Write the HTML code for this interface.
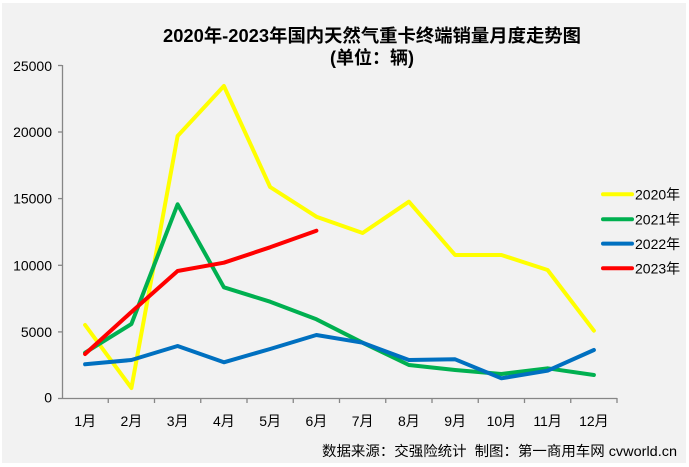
<!DOCTYPE html>
<html><head><meta charset="utf-8"><style>
html,body{margin:0;padding:0;background:#fff;}
svg{display:block;}
text{font-family:"Liberation Sans","Noto Sans CJK SC",sans-serif;fill:#000;}
</style></head><body>
<svg width="689" height="467" viewBox="0 0 689 467" xmlns="http://www.w3.org/2000/svg">
<rect x="0" y="0" width="689" height="467" fill="#ffffff"/>
<rect x="2" y="3" width="684" height="460" fill="#f2f2f2"/>
<text x="372" y="36" text-anchor="middle" dominant-baseline="central" font-size="18" font-weight="bold" textLength="418" lengthAdjust="spacingAndGlyphs">2020年-2023年国内天然气重卡终端销量月度走势图</text>
<text x="372" y="58" text-anchor="middle" dominant-baseline="central" font-size="18" font-weight="bold">(单位：辆)</text>
<g stroke="#868686" stroke-width="1.3" fill="none">
<line x1="62.5" y1="65" x2="62.5" y2="398.5"/>
<line x1="62" y1="398.5" x2="617" y2="398.5"/>
<line x1="58" y1="65.5" x2="62" y2="65.5"/>
<line x1="58" y1="132" x2="62" y2="132"/>
<line x1="58" y1="198.6" x2="62" y2="198.6"/>
<line x1="58" y1="265.3" x2="62" y2="265.3"/>
<line x1="58" y1="331.9" x2="62" y2="331.9"/>
<line x1="58" y1="398.5" x2="62" y2="398.5"/>
<line x1="108.25" y1="398" x2="108.25" y2="403"/>
<line x1="154.5" y1="398" x2="154.5" y2="403"/>
<line x1="200.75" y1="398" x2="200.75" y2="403"/>
<line x1="247" y1="398" x2="247" y2="403"/>
<line x1="293.25" y1="398" x2="293.25" y2="403"/>
<line x1="339.5" y1="398" x2="339.5" y2="403"/>
<line x1="385.75" y1="398" x2="385.75" y2="403"/>
<line x1="432" y1="398" x2="432" y2="403"/>
<line x1="478.25" y1="398" x2="478.25" y2="403"/>
<line x1="524.5" y1="398" x2="524.5" y2="403"/>
<line x1="570.75" y1="398" x2="570.75" y2="403"/>
<line x1="617" y1="398" x2="617" y2="403"/>
</g>
<g font-size="14" text-anchor="end" dominant-baseline="central">
<text x="52" y="66">25000</text>
<text x="52" y="132">20000</text>
<text x="52" y="198.6">15000</text>
<text x="52" y="265.3">10000</text>
<text x="52" y="331.9">5000</text>
<text x="52" y="397.5">0</text>
</g>
<g font-size="14" text-anchor="middle" dominant-baseline="central">
<text x="85.1" y="421">1月</text>
<text x="131.4" y="421">2月</text>
<text x="177.6" y="421">3月</text>
<text x="223.9" y="421">4月</text>
<text x="270.1" y="421">5月</text>
<text x="316.4" y="421">6月</text>
<text x="362.6" y="421">7月</text>
<text x="408.9" y="421">8月</text>
<text x="455.1" y="421">9月</text>
<text x="501.4" y="421">10月</text>
<text x="547.6" y="421">11月</text>
<text x="593.9" y="421">12月</text>
</g>
<g fill="none" stroke-width="4" stroke-linejoin="round" stroke-linecap="round">
<polyline stroke="#ffff00" points="85.1,325 131.4,388 177.6,136 223.9,86 270.1,187 316.4,216.7 362.6,233 408.9,201.7 455.1,255 501.4,255 547.6,270 593.9,330.7"/>
<polyline stroke="#00b050" points="85.1,352.7 131.4,324 177.6,204.3 223.9,287.3 270.1,301.7 316.4,319.3 362.6,342.7 408.9,365 455.1,370 501.4,374 547.6,368.3 593.9,375"/>
<polyline stroke="#0070c0" points="85.1,364.3 131.4,360 177.6,346 223.9,362.3 270.1,349 316.4,335 362.6,342.7 408.9,360 455.1,359.3 501.4,378.3 547.6,370.7 593.9,350"/>
<polyline stroke="#ff0000" points="85.1,354 131.4,312 177.6,271 223.9,262.7 270.1,247.3 316.4,230.7"/>
</g>
<g stroke-width="4" stroke-linecap="round">
<line x1="603" y1="194.3" x2="632" y2="194.3" stroke="#ffff00"/>
<line x1="603" y1="219.3" x2="632" y2="219.3" stroke="#00b050"/>
<line x1="603" y1="243.6" x2="632" y2="243.6" stroke="#0070c0"/>
<line x1="603" y1="268.3" x2="632" y2="268.3" stroke="#ff0000"/>
</g>
<g font-size="14" dominant-baseline="central">
<text x="635" y="194.5">2020年</text>
<text x="635" y="219.5">2021年</text>
<text x="635" y="243.8">2022年</text>
<text x="635" y="268.5">2023年</text>
</g>
<text x="677" y="451" text-anchor="end" dominant-baseline="central" font-size="14" textLength="355" lengthAdjust="spacingAndGlyphs" fill="#333">数据来源：交强险统计&#160; 制图：第一商用车网 cvworld.cn</text>
</svg>
</body></html>
